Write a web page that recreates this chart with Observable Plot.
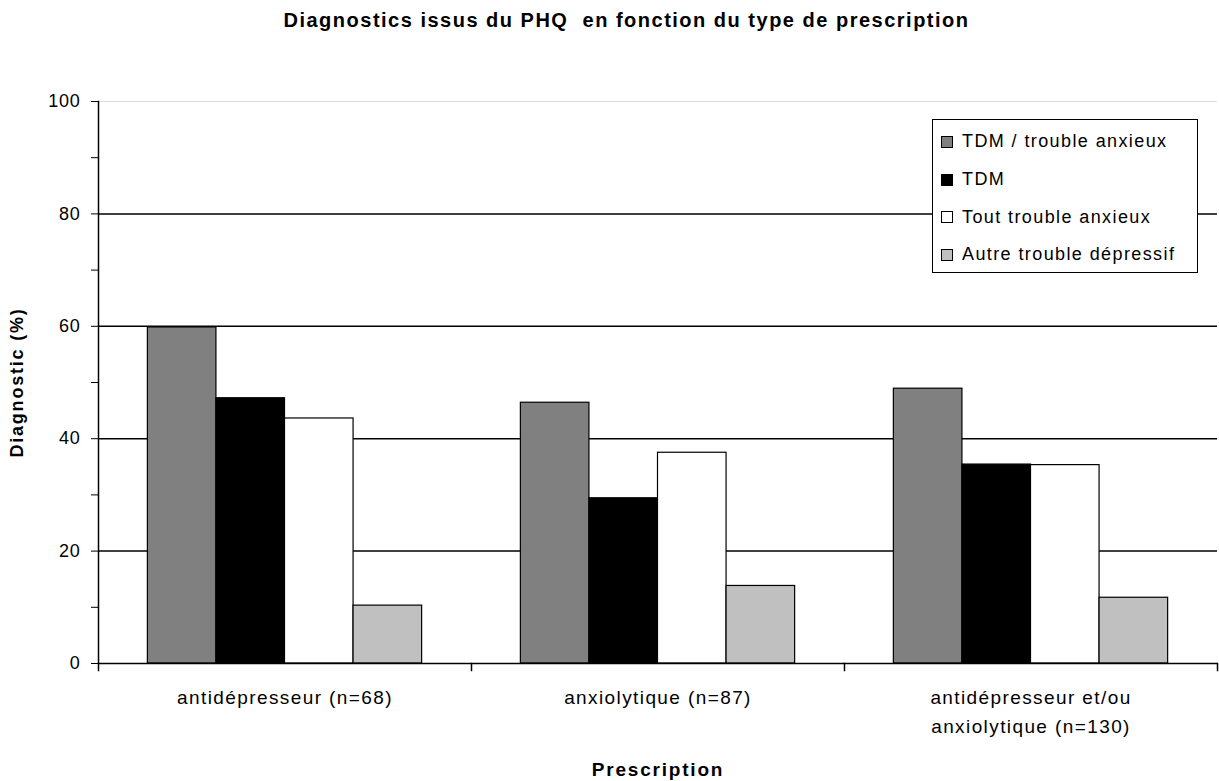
<!DOCTYPE html>
<html>
<head>
<meta charset="utf-8">
<script src="https://cdn.jsdelivr.net/npm/d3@7"></script>
<script src="https://cdn.jsdelivr.net/npm/@observablehq/plot@0.6"></script>
<style>
  html, body { margin: 0; padding: 0; background: #fff; }
  #wrap { position: relative; width: 1219px; height: 781px; font-family: "Liberation Sans", Arial, sans-serif; }
  #title { height: 40px; line-height: 41px; box-sizing: border-box; padding-left: 34px; text-align: center;
           font-weight: bold; font-size: 20px; letter-spacing: 1.5px; color: #000; white-space: pre; }
  #chart svg { letter-spacing: 1.4px; display: block; }
  #chart g[aria-label="y-axis tick label"] { letter-spacing: 0.7px; }
  #chart g[aria-label="y-axis label"], #chart g[aria-label="fx-axis label"] { font-weight: bold; letter-spacing: 1.8px; }
  #legend { position: absolute; left: 932px; top: 119px; width: 266px; height: 154px; box-sizing: border-box;
            border: 1.5px solid #000; background: #fff; padding-top: 3px; }
  .item { height: 37.7px; display: flex; align-items: center; font-size: 18px; letter-spacing: 1.4px; color: #000; }
  .sw { width: 10px; height: 10px; border: 1px solid #000; margin-left: 8px; margin-right: 9px; flex: none; }
</style>
</head>
<body>
<div id="wrap">
  <div id="title">Diagnostics issus du PHQ  en fonction du type de prescription</div>
  <div id="chart"></div>
  <div id="legend"></div>
</div>
<script>
const categories = ["antidépresseur (n=68)", "anxiolytique (n=87)", "antidépresseur et/ou\nanxiolytique (n=130)"];
const series = ["TDM / trouble anxieux", "TDM", "Tout trouble anxieux", "Autre trouble dépressif"];
const colors = ["#808080", "#000000", "#ffffff", "#c0c0c0"];
const tdmAnxieux = [59.8, 46.4, 48.9];
const tdm = [47.2, 29.4, 35.4];
const toutAnxieux = [43.6, 37.5, 35.3];
const autreDepressif = [10.3, 13.8, 11.7];
const yTicks = [0, 10, 20, 30, 40, 50, 60, 70, 80, 90, 100];
const yGrid = [20, 40, 60, 80];

const seriesValues = [tdmAnxieux, tdm, toutAnxieux, autreDepressif];
const rows = categories.flatMap((c, i) => series.map((s, j) => ({category: c, series: s, value: seriesValues[j][i]})));

const chart = Plot.plot({
  width: 1219,
  height: 741,
  marginTop: 61,
  marginBottom: 118,
  marginLeft: 98,
  marginRight: 2,
  style: {fontFamily: "'Liberation Sans', Arial, sans-serif", fontSize: "19px", background: "#fff", color: "#000", overflow: "visible"},
  fx: {domain: categories, padding: 0, axis: null},
  x: {domain: series, axis: null, paddingInner: 0, paddingOuter: 0.72, round: false},
  y: {domain: [0, 100], axis: null},
  color: {domain: series, range: colors},
  marks: [
    Plot.ruleY([100], {stroke: "#dddddd", strokeWidth: 1}),
    Plot.gridY(yGrid, {stroke: "#000", strokeOpacity: 1, strokeWidth: 1.5}),
    Plot.barY(rows, {fx: "category", x: "series", y: "value", fill: "series", stroke: "#000", strokeWidth: 1.2}),
    Plot.ruleY([0], {stroke: "#000", strokeWidth: 1.5}),
    Plot.frame({anchor: "left", facetAnchor: "left", stroke: "#000", strokeWidth: 1.5}),
    Plot.frame({anchor: "left", stroke: "#000", strokeWidth: 1.5, insetTop: 562, insetBottom: -7}),
    Plot.frame({anchor: "right", facetAnchor: "right", stroke: "#000", strokeWidth: 1.5, insetTop: 562, insetBottom: -7}),
    Plot.axisY({ticks: yTicks, tickFormat: d => d % 20 === 0 ? d : "", tickSize: 7, tickPadding: 11, fontSize: 18,
      label: "Diagnostic (%)", labelAnchor: "center", labelArrow: "none", labelOffset: 88}),
    Plot.axisFx({anchor: "bottom", tickSize: 0, tickPadding: 20, fontSize: 19, lineHeight: 1.53,
      label: "Prescription", labelAnchor: "center", labelArrow: "none", labelOffset: 112})
  ]
});
document.getElementById("chart").appendChild(chart);

const legend = document.getElementById("legend");
series.forEach((s, i) => {
  const item = document.createElement("div");
  item.className = "item";
  const sw = document.createElement("span");
  sw.className = "sw";
  sw.style.background = colors[i];
  const t = document.createElement("span");
  t.textContent = s;
  item.appendChild(sw);
  item.appendChild(t);
  legend.appendChild(item);
});
</script>
</body>
</html>
